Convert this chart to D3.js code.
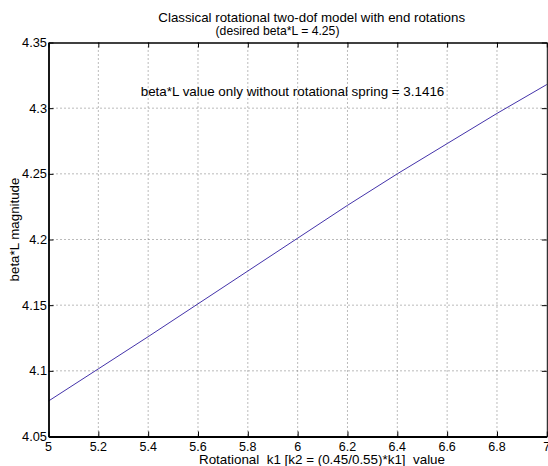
<!DOCTYPE html>
<html>
<head>
<meta charset="utf-8">
<script src="https://cdn.jsdelivr.net/npm/d3@7"></script>
<style>
  body { margin: 0; background: #fff; }
  svg { display: block; font-family: "Liberation Sans", Arial, sans-serif; }
  .grid line { stroke: #777; stroke-width: 1; stroke-dasharray: 1,3; }
</style>
</head>
<body>
<svg width="548" height="466"></svg>
<script>
// rotational spring k1 values
const k1 = [5, 5.2, 5.4, 5.6, 5.8, 6, 6.2, 6.4, 6.6, 6.8, 7];
// beta*L
const betaL = [4.077, 4.1015, 4.126, 4.151, 4.176, 4.201, 4.226, 4.25, 4.273, 4.296, 4.318];

const xTicks = [5, 5.2, 5.4, 5.6, 5.8, 6, 6.2, 6.4, 6.6, 6.8, 7];
const xTickLabels = ['5', '5.2', '5.4', '5.6', '5.8', '6', '6.2', '6.4', '6.6', '6.8', '7'];
const yTicks = [4.05, 4.1, 4.15, 4.2, 4.25, 4.3, 4.35];
const yTickLabels = ['4.05', '4.1', '4.15', '4.2', '4.25', '4.3', '4.35'];

const $svg = d3.select('svg');
const mLeft = 48.5, mRight = 546.8, mTop = 42.5, mBottom = 436.5;

const x = d3.scaleLinear().domain([5, 7]).range([mLeft, mRight]);
const y = d3.scaleLinear().domain([4.05, 4.35]).range([mBottom, mTop]);

// dotted grid
const grid = $svg.append('g').attr('class', 'grid');
grid.selectAll('.gx')
  .data(xTicks.slice(1, -1))
  .join('line')
  .attr('x1', d => x(d)).attr('x2', d => x(d))
  .attr('y1', mTop).attr('y2', mBottom);
grid.selectAll('.gy')
  .data(yTicks.slice(1, -1))
  .join('line')
  .attr('x1', mLeft).attr('x2', mRight)
  .attr('y1', d => y(d)).attr('y2', d => y(d));

// the curve
const line = d3.line().x((d, i) => x(k1[i])).y(d => y(d));
$svg.append('path')
  .datum(betaL)
  .attr('d', line)
  .attr('fill', 'none')
  .attr('stroke', '#4433aa')
  .attr('stroke-width', 1);

// axes, ticks pointing inward like matlab
const fmtX = (d, i) => xTickLabels[i];
const fmtY = (d, i) => yTickLabels[i];

const axB = $svg.append('g')
  .attr('transform', `translate(0,${mBottom})`)
  .call(d3.axisTop(x).tickValues(xTicks).tickFormat('').tickSizeInner(5).tickSizeOuter(0));
const axT = $svg.append('g')
  .attr('transform', `translate(0,${mTop})`)
  .call(d3.axisBottom(x).tickValues(xTicks).tickFormat('').tickSizeInner(5).tickSizeOuter(0));
const axL = $svg.append('g')
  .attr('transform', `translate(${mLeft},0)`)
  .call(d3.axisRight(y).tickValues(yTicks).tickFormat('').tickSizeInner(5).tickSizeOuter(0));
const axR = $svg.append('g')
  .attr('transform', `translate(${mRight},0)`)
  .call(d3.axisLeft(y).tickValues(yTicks).tickFormat('').tickSizeInner(5).tickSizeOuter(0));

[axB, axT, axL, axR].forEach(a => {
  a.selectAll('path, line').attr('stroke', '#000').attr('stroke-width', 1);
});
axB.select('path').attr('stroke-width', 1.8);
axL.select('path').attr('stroke-width', 1.8);
axT.select('path').attr('stroke-width', 1.4);

// tick labels
$svg.append('g').selectAll('text')
  .data(xTicks)
  .join('text')
  .attr('x', d => x(d))
  .attr('y', 451)
  .attr('text-anchor', 'middle')
  .attr('font-size', 12.5)
  .text(fmtX);

$svg.append('g').selectAll('text')
  .data(yTicks)
  .join('text')
  .attr('x', 47)
  .attr('y', d => y(d) + 4.6)
  .attr('text-anchor', 'end')
  .attr('font-size', 12.8)
  .text(fmtY);

// titles and labels
$svg.append('text')
  .attr('x', 311.7).attr('y', 21.5)
  .attr('text-anchor', 'middle')
  .attr('font-size', 13.3)
  .text('Classical rotational two-dof model with end rotations');
$svg.append('text')
  .attr('x', 277.5).attr('y', 35)
  .attr('text-anchor', 'middle')
  .attr('font-size', 12.2)
  .text('(desired beta*L = 4.25)');
$svg.append('text')
  .attr('x', 292.5).attr('y', 96)
  .attr('text-anchor', 'middle')
  .attr('font-size', 13.4)
  .text('beta*L value only without rotational spring = 3.1416');
$svg.append('text')
  .attr('x', 322).attr('y', 464)
  .attr('text-anchor', 'middle')
  .attr('font-size', 13.4)
  .style('white-space', 'pre')
  .text('Rotational  k1 [k2 = (0.45/0.55)*k1]  value');
$svg.append('text')
  .attr('transform', 'translate(18.5,229.5) rotate(-90)')
  .attr('text-anchor', 'middle')
  .attr('font-size', 13.3)
  .text('beta*L magnitude');
</script>
</body>
</html>
